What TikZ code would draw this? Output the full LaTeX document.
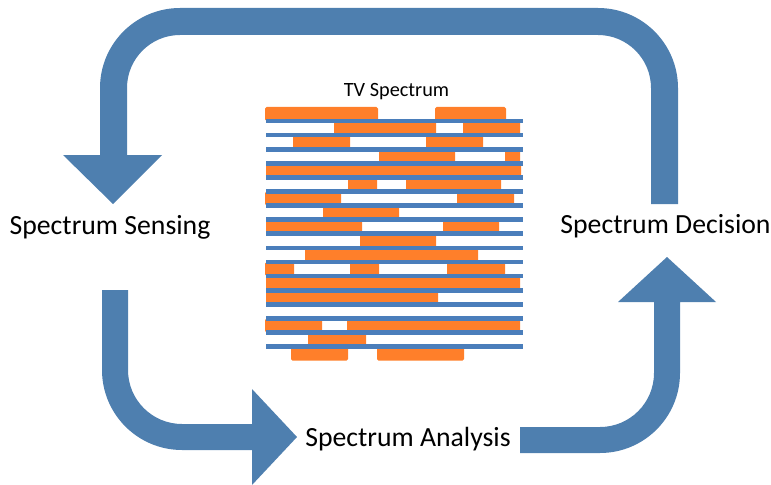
\documentclass[tikz,border=0pt]{standalone}
\usepackage{fontspec}
\setmainfont{Carlito}
\definecolor{arrowblue}{HTML}{4E7FAF}
\definecolor{lineblue}{HTML}{4A7EBB}
\definecolor{barorange}{HTML}{FF7F2A}
\tikzset{
  stage/.style={anchor=base, inner sep=0pt, font=\fontsize{20.8}{25}\selectfont},
  bigarrow/.style={fill=arrowblue},
  channel/.style={draw=lineblue, line width=3.5pt},
  busy/.style={fill=barorange, rounded corners=1.2pt}
}
\begin{document}
\begin{tikzpicture}[x=0.75pt, y=-0.75pt]
      \useasboundingbox (0,0) rectangle (771,485);
      \node[stage] (sensing) at (110,234) {Spectrum Sensing};
      \node[stage] (decision) at (665.5,233) {Spectrum Decision};
      \node[stage] (analysis) at (408,446) {Spectrum Analysis};
      \node[stage, font=\fontsize{15.2}{18}\selectfont] (tv) at (396.5,97) {TV Spectrum};
      \fill[bigarrow] (678,204) -- (678,88) arc[start angle=0, end angle=-90, radius=80]
        -- (180,8) arc[start angle=-90, end angle=-180, radius=80]
        -- (100,155) -- (63,155) -- (113,204) -- (162,155) -- (127,155)
        -- (127,88) arc[start angle=180, end angle=270, radius=53]
        -- (598,35) arc[start angle=270, end angle=360, radius=53] -- (651,204) -- cycle;
      \fill[bigarrow] (102,290) -- (102,370) arc[start angle=180, end angle=90, radius=80]
        -- (252,450) -- (252,485) -- (297,437) -- (252,389) -- (252,424)
        -- (182,424) arc[start angle=90, end angle=180, radius=54] -- (128,290) -- cycle;
      \fill[bigarrow] (520,453) -- (600,453) arc[start angle=90, end angle=0, radius=80]
        -- (680,302) -- (716,302) -- (667,257) -- (618,302) -- (654,302)
        -- (654,373) arc[start angle=0, end angle=90, radius=54] -- (520,427) -- cycle;
      \begin{scope}[every path/.style=busy]
        \fill (265,107) rectangle (378,121);
        \fill (435,107) rectangle (506,121);
        \fill (334,121.1) rectangle (436,135.1);
        \fill (463,121.1) rectangle (520,135.1);
        \fill (293,135.2) rectangle (350,149.2);
        \fill (426,135.2) rectangle (483,149.2);
        \fill (379,149.3) rectangle (455,163.3);
        \fill (505,149.3) rectangle (520,163.3);
        \fill (266,163.4) rectangle (521,177.4);
        \fill (348,177.5) rectangle (377,191.5);
        \fill (406,177.5) rectangle (501,191.5);
        \fill (265,191.6) rectangle (341,205.6);
        \fill (457,191.6) rectangle (514,205.6);
        \fill (323,205.7) rectangle (399,219.7);
        \fill (266,219.8) rectangle (362,233.8);
        \fill (443,219.8) rectangle (499,233.8);
        \fill (360,233.9) rectangle (436,247.9);
        \fill (305,248) rectangle (478,262);
        \fill (265,262.1) rectangle (294,276.1);
        \fill (350,262.1) rectangle (379,276.1);
        \fill (447,262.1) rectangle (505,276.1);
        \fill (266,276.2) rectangle (520,290.2);
        \fill (266,290.3) rectangle (438,304.3);
        \fill (265,318.5) rectangle (322,332.5);
        \fill (347,318.5) rectangle (520,332.5);
        \fill (308,332.6) rectangle (366,346.6);
        \fill (291,346.7) rectangle (348,360.7);
        \fill (377,346.7) rectangle (464,360.7);
      \end{scope}
      \begin{scope}[every path/.style=channel]
        \draw (266,121) -- (523,121);
        \draw (266,135.1) -- (523,135.1);
        \draw (266,149.2) -- (523,149.2);
        \draw (266,163.3) -- (523,163.3);
        \draw (266,177.4) -- (523,177.4);
        \draw (266,191.5) -- (523,191.5);
        \draw (266,205.6) -- (523,205.6);
        \draw (266,219.7) -- (523,219.7);
        \draw (266,233.8) -- (523,233.8);
        \draw (266,247.9) -- (523,247.9);
        \draw (266,262) -- (523,262);
        \draw (266,276.1) -- (523,276.1);
        \draw (266,290.2) -- (523,290.2);
        \draw (266,304.3) -- (523,304.3);
        \draw (266,318.4) -- (523,318.4);
        \draw (266,332.5) -- (523,332.5);
        \draw (266,346.6) -- (523,346.6);
      \end{scope}
    \end{tikzpicture}
\end{document}
